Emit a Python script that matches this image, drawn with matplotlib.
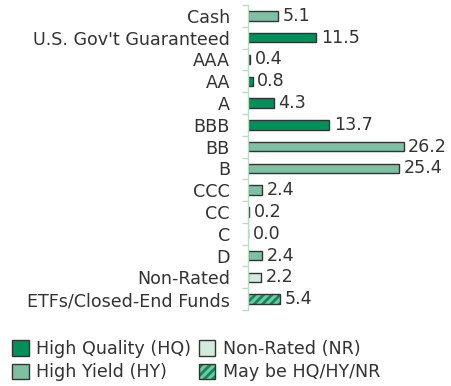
import matplotlib
matplotlib.use("Agg")
import matplotlib.pyplot as plt
from matplotlib.patches import Patch

# credit quality breakdown (% of portfolio)
categories = ["Cash", "U.S. Gov't Guaranteed", "AAA", "AA", "A", "BBB", "BB", "B",
              "CCC", "CC", "C", "D", "Non-Rated", "ETFs/Closed-End Funds"]
values = [5.1, 11.5, 0.4, 0.8, 4.3, 13.7, 26.2, 25.4, 2.4, 0.2, 0.0, 2.4, 2.2, 5.4]
groups = ["HY", "HQ", "HQ", "HQ", "HQ", "HQ", "HY", "HY", "HY", "HY", "HY", "HY", "NR", "MIX"]

HQ = "#00915a"
HY = "#80c0a2"
NR = "#d3eadd"
EDGE = "#333333"
AXIS = "#b8dcc6"
TXT = "#333333"
FS = 12.6

fills = {"HQ": HQ, "HY": HY, "NR": NR, "MIX": HY}

plt.rcParams["font.family"] = ["DejaVu Sans"]
plt.rcParams["hatch.linewidth"] = 2.0

fig = plt.figure(figsize=(4.52, 3.86), dpi=100)
ax = fig.add_axes([248 / 452, 76 / 386, 202 / 452, 305 / 386])

ypos = list(range(len(categories)))
for y, v, g in zip(ypos, values, groups):
    if g == "MIX":
        ax.barh(y, v, height=0.43, color=fills[g], edgecolor=HQ, hatch="////", linewidth=0)
        ax.barh(y, v, height=0.43, fill=False, edgecolor=EDGE, linewidth=1)
    else:
        ax.barh(y, v, height=0.43, color=fills[g], edgecolor=EDGE, linewidth=1)
    ax.text(v + 0.75, y, f"{v:.1f}", va="center", ha="left", fontsize=FS, color=TXT)

ax.set_xlim(0, 34)
ax.set_ylim(len(categories) - 0.5, -0.5)

ax.set_yticks(ypos)
ax.set_yticklabels(categories, fontsize=FS, color=TXT)
ax.tick_params(axis="y", which="major", length=0, pad=13)
ax.set_yticks([i - 0.5 for i in range(len(categories) + 1)], minor=True)
ax.tick_params(axis="y", which="minor", length=4, color=AXIS, width=1)
ax.set_xticks([])

for s in ["top", "right", "bottom"]:
    ax.spines[s].set_visible(False)
ax.spines["left"].set_color(AXIS)
ax.spines["left"].set_linewidth(1)

handles = [
    Patch(facecolor=HQ, edgecolor=EDGE, linewidth=1),
    Patch(facecolor=HY, edgecolor=EDGE, linewidth=1),
    Patch(facecolor=NR, edgecolor=EDGE, linewidth=1),
    (Patch(facecolor=HY, edgecolor=HQ, hatch="////", linewidth=0),
     Patch(fill=False, edgecolor=EDGE, linewidth=1)),
]
labels = ["High Quality (HQ)", "High Yield (HY)", "Non-Rated (NR)", "May be HQ/HY/NR"]
fig.legend(handles, labels, ncol=2, loc="upper left", bbox_to_anchor=(12 / 452, 1 - 340 / 386),
           frameon=False, fontsize=FS, handlelength=0.95, handleheight=0.95,
           handletextpad=0.45, columnspacing=0.4, labelspacing=0.3,
           borderaxespad=0, borderpad=0, labelcolor=TXT)

fig.savefig("out.png", dpi=100)
